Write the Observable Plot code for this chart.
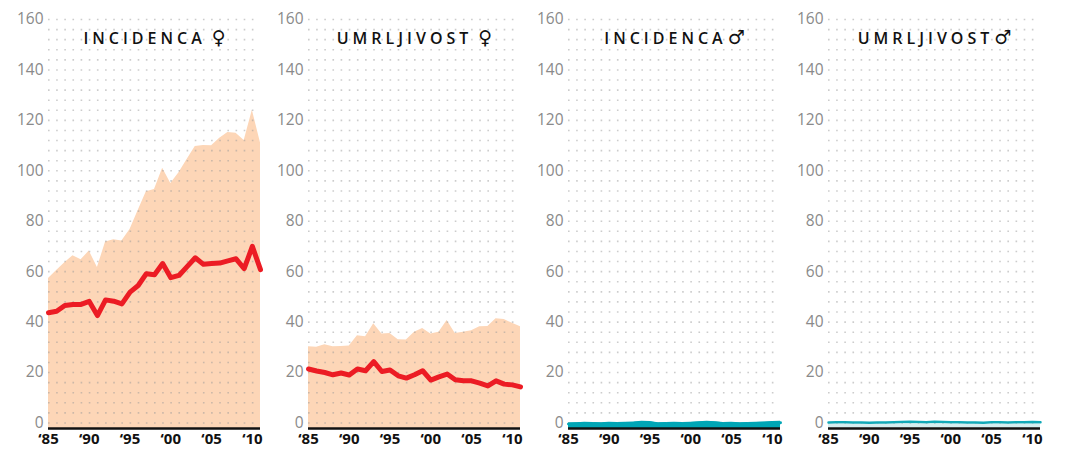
<!DOCTYPE html>
<html><head><meta charset="utf-8">
<script src="https://cdn.jsdelivr.net/npm/d3@7"></script>
<script src="https://cdn.jsdelivr.net/npm/@observablehq/plot@0.6"></script>
<style>
body{margin:0;background:#fff;}
#row{display:flex;width:1066px;height:450px;overflow:hidden}
#row svg{flex:none}
</style></head><body><div id="row"></div>
<script>
const years = [1985,1986,1987,1988,1989,1990,1991,1992,1993,1994,1995,1996,1997,1998,1999,2000,2001,2002,2003,2004,2005,2006,2007,2008,2009,2010,2011];
const xTicks = [1985,1990,1995,2000,2005,2010];
const yTicks = [0,20,40,60,80,100,120,140,160];
const titles = ["INCIDENCA ♀","UMRLJIVOST ♀","INCIDENCA ♂","UMRLJIVOST ♂"];

const incidenceWomenCrude = [57.3,60.5,63.5,66.3,64.7,68.2,61.6,71.8,72.7,72.2,76.7,84.3,91.7,92.6,101,95,99.2,104.5,109.6,110,109.9,112.9,115.2,114.9,112,124,111];
const incidenceWomenStd   = [43.7,44.3,46.6,47,47,48.2,42.6,48.8,48.3,47.2,51.9,54.5,59.2,58.8,63.2,57.6,58.5,62,65.5,62.9,63.2,63.4,64.3,65.1,61.2,70,60.8];
const mortalityWomenCrude = [30.2,30,31,30.2,30.3,30.5,34.6,34.2,39.3,35.3,35.5,33,32.9,36,37.5,35.3,36,40.6,35.5,36,36.6,38.2,38.3,41.3,41,39.5,38.2];
const mortalityWomenStd   = [21.4,20.6,20,19.1,19.8,19,21.4,20.7,24.3,20.4,21,18.7,17.8,19.1,20.7,17,18.3,19.4,17.1,16.7,16.7,15.8,14.7,16.7,15.4,15.1,14.3];
const incidenceMenCrude   = [0,0.1,0.3,0.2,0.1,0.3,0.2,0.3,0.4,0.7,0.6,0.1,0.2,0.3,0.2,0.3,0.5,0.7,0.5,0.2,0.3,0.1,0.2,0.3,0.4,0.6,0.7];
const incidenceMenStd     = [-0.4,-0.3,-0.2,-0.3,-0.4,-0.2,-0.3,-0.2,-0.1,0.1,0,-0.4,-0.3,-0.2,-0.3,-0.2,0,0.1,0,-0.3,-0.2,-0.4,-0.3,-0.2,-0.1,0,0.1];
const mortalityMenCrude   = [-0.6,-0.6,-0.6,-0.6,-0.6,-0.6,-0.6,-0.6,-0.6,-0.6,-0.6,-0.6,-0.6,-0.6,-0.6,-0.6,-0.6,-0.6,-0.6,-0.6,-0.6,-0.6,-0.6,-0.6,-0.6,-0.6,-0.6];
const mortalityMenStd     = [0.2,0.3,0.3,0.2,0.2,0.1,0.2,0.2,0.3,0.4,0.5,0.4,0.3,0.5,0.4,0.3,0.3,0.2,0.2,0.1,0.3,0.3,0.2,0.3,0.3,0.4,0.3];

const BASE = -2.2;
const panels = [
  {title: titles[0], area: incidenceWomenCrude, line: incidenceWomenStd, areaFill: "#fdd6b7", lineStroke: "#ec1c24", lineWidth: 5},
  {title: titles[1], area: mortalityWomenCrude, line: mortalityWomenStd, areaFill: "#fdd6b7", lineStroke: "#ec1c24", lineWidth: 5},
  {title: titles[2], area: incidenceMenCrude, line: incidenceMenStd, areaFill: "#00a6b6", lineStroke: "#00a6b6", lineWidth: 3},
  {title: titles[3], area: mortalityMenCrude, line: mortalityMenStd, areaFill: "#d6eef0", lineStroke: "#12a9b8", lineWidth: 2.5}
];

const W = 260, ML = 48, MR = 0;
const step = (W - ML - MR) / (years.length - 1);
const gridTicks = d3.range(0, 161, 4);
const row = document.getElementById("row");

panels.forEach(p => {
  const table = years.map((year, i) => ({year, area: p.area[i], line: p.line[i]}));
  const svg = Plot.plot({
    width: W, height: 450,
    marginLeft: ML, marginRight: MR, marginTop: 19, marginBottom: 22,
    style: {fontFamily: "'Open Sans', sans-serif", background: "transparent", overflow: "visible"},
    x: {domain: [1985, 2011]},
    y: {domain: [BASE, 160]},
    marks: [
      Plot.areaY(table, {x: "year", y1: BASE, y2: "area", fill: p.areaFill}),
      Plot.gridY(gridTicks, {stroke: "#999", strokeOpacity: 0.5, strokeWidth: 1.6, strokeDasharray: `1.6 ${step - 1.6}`}),
      Plot.lineY(table, {x: "year", y: "line", stroke: p.lineStroke, strokeWidth: p.lineWidth}),
      Plot.ruleY([BASE], {stroke: "#111", strokeWidth: 2.4}),
      Plot.axisY(yTicks, {tickSize: 0, tickPadding: 5, fontSize: 15.5, fill: "#8a8a8a", label: null}),
      Plot.axisX(xTicks, {tickSize: 0, tickPadding: 5, fontSize: 15, fontWeight: 700, fill: "#111",
        tickFormat: d => "\u2018" + String(d).slice(2), label: null}),
      Plot.text([p.title], {frameAnchor: "top", lineAnchor: "middle", dy: 19.3, fontSize: 16, fontWeight: 600, fill: "#111"})
    ]
  });
  svg.querySelectorAll('g[aria-label="text"] text').forEach(t => {
    const s = t.textContent;
    const parts = s.split(" ");
    const sym = parts.pop();
    t.textContent = "";
    const a = document.createElementNS("http://www.w3.org/2000/svg", "tspan");
    a.textContent = parts.join(" ");
    const b = document.createElementNS("http://www.w3.org/2000/svg", "tspan");
    b.textContent = sym;
    b.setAttribute("font-family", "'DejaVu Sans', sans-serif");
    b.setAttribute("font-size", "19");
    b.setAttribute("font-weight", "bold");
    b.setAttribute("dx", sym === "♀" ? "6" : "1");
    t.appendChild(a); t.appendChild(b);
    t.style.letterSpacing = "4px";
    t.setAttribute("dx", "2");
  });
  row.appendChild(svg);
});
</script>
</body></html>
